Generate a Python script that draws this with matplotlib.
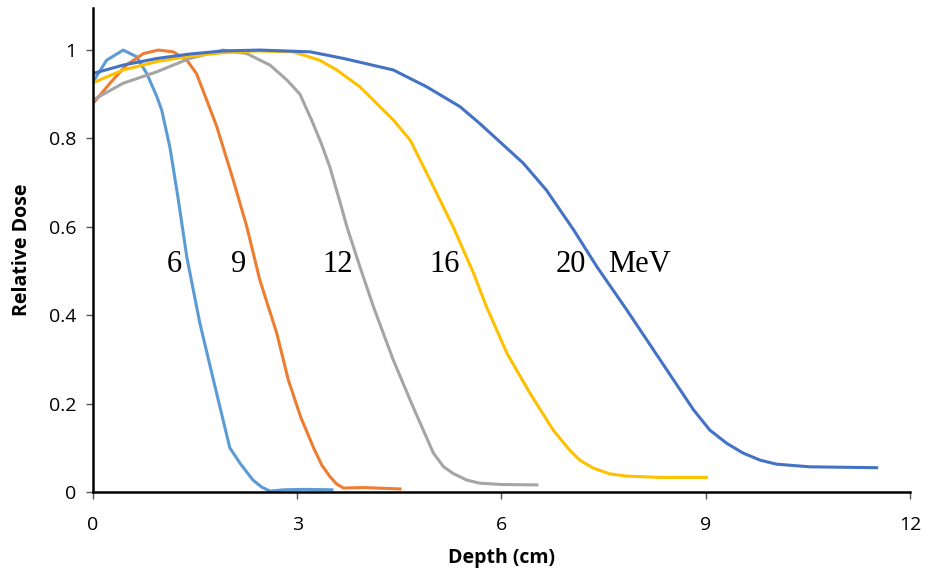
import matplotlib.pyplot as plt

# depth-dose curves (depth in cm, relative dose)
d6 = [0, 0.2, 0.445, 0.64, 0.79, 0.94, 1.01, 1.13, 1.25, 1.38, 1.57, 1.77, 1.9, 2.01, 2.16, 2.35, 2.48, 2.6, 2.8, 3.1, 3.51]
y6 = [0.928, 0.977, 1.0, 0.985, 0.947, 0.894, 0.864, 0.78, 0.665, 0.53, 0.382, 0.253, 0.17, 0.10, 0.065, 0.027, 0.011, 0.002, 0.005, 0.006, 0.005]

d9 = [0, 0.25, 0.49, 0.74, 0.96, 1.18, 1.38, 1.52, 1.67, 1.82, 2.06, 2.26, 2.45, 2.70, 2.87, 3.05, 3.24, 3.36, 3.48, 3.58, 3.68, 3.97, 4.51]
y9 = [0.879, 0.925, 0.966, 0.992, 1.0, 0.996, 0.977, 0.947, 0.887, 0.826, 0.706, 0.60, 0.48, 0.359, 0.253, 0.17, 0.10, 0.061, 0.035, 0.018, 0.009, 0.01, 0.007]

d12 = [0, 0.445, 0.94, 1.42, 1.91, 2.26, 2.6, 2.85, 3.04, 3.21, 3.35, 3.48, 3.63, 3.73, 3.92, 4.12, 4.41, 4.70, 5.0, 5.15, 5.29, 5.49, 5.68, 6.0, 6.52]
y12 = [0.887, 0.925, 0.951, 0.981, 1.0, 0.992, 0.966, 0.932, 0.9, 0.842, 0.79, 0.735, 0.655, 0.60, 0.51, 0.419, 0.299, 0.193, 0.088, 0.057, 0.042, 0.027, 0.02, 0.017, 0.016]

d16 = [0, 0.445, 0.94, 1.42, 1.91, 2.40, 2.94, 3.33, 3.58, 3.92, 4.41, 4.66, 5.0, 5.29, 5.59, 5.78, 6.08, 6.42, 6.76, 7.0, 7.15, 7.35, 7.59, 7.84, 8.33, 9.01]
y16 = [0.926, 0.955, 0.974, 0.986, 0.994, 0.998, 0.996, 0.977, 0.955, 0.917, 0.842, 0.796, 0.691, 0.60, 0.495, 0.419, 0.314, 0.223, 0.14, 0.095, 0.072, 0.054, 0.041, 0.036, 0.033, 0.033]

d20 = [0, 0.445, 0.94, 1.42, 1.91, 2.45, 3.19, 3.68, 4.41, 4.90, 5.39, 5.68, 6.32, 6.66, 7.06, 7.40, 7.84, 8.33, 8.82, 9.06, 9.31, 9.55, 9.80, 10.04, 10.53, 11.51]
y20 = [0.947, 0.966, 0.981, 0.991, 0.998, 1.0, 0.996, 0.981, 0.955, 0.917, 0.872, 0.834, 0.744, 0.683, 0.593, 0.51, 0.412, 0.299, 0.186, 0.140, 0.110, 0.088, 0.072, 0.063, 0.057, 0.055]

energies = ["6", "9", "12", "16", "20"]
label_x = [1.20, 2.14, 3.6, 5.17, 7.02]
xticks = [0, 3, 6, 9, 12]
yticks = [0, 0.2, 0.4, 0.6, 0.8, 1]
ytick_labels = ["0", "0.2", "0.4", "0.6", "0.8", "1"]

fig = plt.figure(figsize=(9.25, 5.77), dpi=100)
ax = fig.add_axes([0.1005, 0.1473, 0.8833, 0.8387])

ax.plot(d6, y6, color="#5B9BD5", lw=2.2)
ax.plot(d9, y9, color="#ED7D31", lw=2.2)
ax.plot(d12, y12, color="#A5A5A5", lw=2.2)
ax.plot(d16, y16, color="#FFC000", lw=2.2)
ax.plot(d20, y20, color="#4472C4", lw=2.2)

for e, x in zip(energies, label_x):
    ax.text(x, 0.515, e, fontsize=22, family="Liberation Serif", ha="center", va="center")
ax.text(8.03, 0.515, "MeV", fontsize=22, family="Liberation Serif", ha="center", va="center")

ax.set_xlim(0, 12)
ax.set_ylim(0, 1.095)
ax.set_xticks(xticks)
ax.set_yticks(yticks)
ax.set_yticklabels(ytick_labels)

for s in ["top", "right"]:
    ax.spines[s].set_visible(False)
for s in ["left", "bottom"]:
    ax.spines[s].set_linewidth(1.8)
    ax.spines[s].set_color("black")

ax.tick_params(axis="both", direction="out", length=5, width=1, color="#555555",
               labelsize=14)
ax.tick_params(axis="x", pad=12)
ax.tick_params(axis="y", pad=7)
for lab in ax.get_xticklabels() + ax.get_yticklabels():
    lab.set_family("Open Sans")

ax.set_xlabel("Depth (cm)", fontsize=14, fontweight="bold", family="Open Sans", labelpad=10)
ax.set_ylabel("Relative Dose", fontsize=14, fontweight="bold", family="Open Sans", labelpad=12)

fig.savefig("out.png", dpi=100)
